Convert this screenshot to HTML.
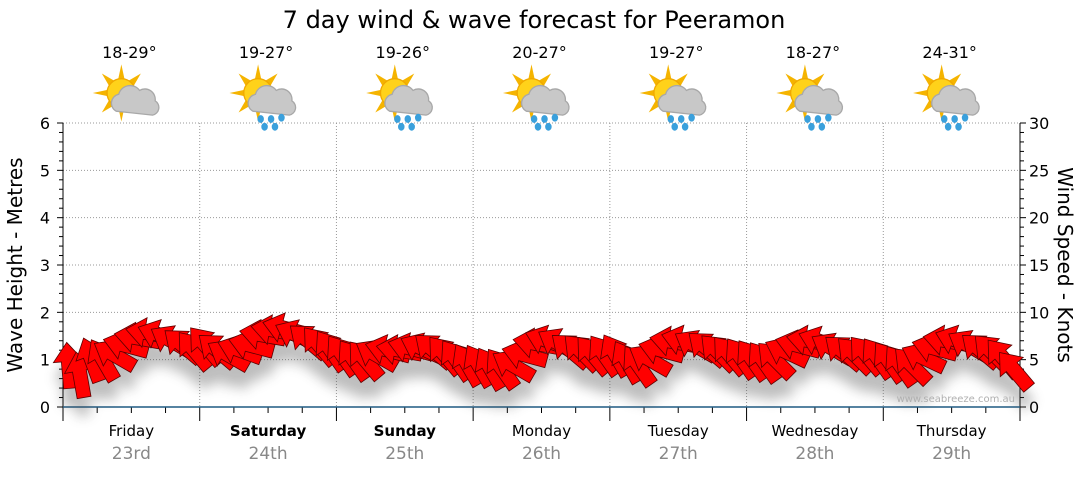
<!DOCTYPE html>
<html><head><meta charset="utf-8"><style>
body{margin:0;background:#fff;width:1080px;height:475px;overflow:hidden;font-family:"Liberation Sans","DejaVu Sans",sans-serif}
svg text{font-family:"DejaVu Sans","Liberation Sans",sans-serif}
</style></head><body>
<svg id="chart" width="1080" height="475" viewBox="0 0 1080 475">
<defs>
<filter id="sh" x="-20%" y="-20%" width="140%" height="160%"><feGaussianBlur stdDeviation="6"/></filter>
<g id="sun"><g fill="#f5b400">
<polygon points="0,-22 3,-8 -3,-8"/><polygon points="0,22 3,8 -3,8"/><polygon points="-22,0 -8,3 -8,-3"/><polygon points="22,0 8,3 8,-3"/>
<polygon points="-15,-15 -3,-8 -8,-3"/><polygon points="15,15 3,8 8,3"/><polygon points="15,-15 3,-8 8,-3"/><polygon points="-15,15 -3,8 -8,3"/></g>
<circle r="11" fill="#ffd21a" stroke="#f0a800"/></g>
<g id="cloud"><path d="M-4,14 a7,7 0 0 1 2,-13 a9,9 0 0 1 16,-3 a8,8 0 0 1 12,8 a6,6 0 0 1 -2,11 z" fill="#c8c8c8" stroke="#a8a8a8"/></g>
<g id="drops" fill="#3aa0dc"><ellipse cx="2" cy="20" rx="2.5" ry="3"/><ellipse cx="10" cy="20" rx="2.5" ry="3"/><ellipse cx="18" cy="19" rx="2.5" ry="3"/><ellipse cx="5" cy="26" rx="2.5" ry="3"/><ellipse cx="13" cy="26" rx="2.5" ry="3"/></g>
</defs>
<text x="534" y="28" font-size="24" text-anchor="middle" fill="#000">7 day wind &amp; wave forecast for Peeramon</text>
<g id="grid"></g><g id="axes"></g><g id="top"></g>
<g id="shadow" filter="url(#sh)" opacity="0.35" transform="translate(0,18)"></g>
<g id="arrows"></g>
<text x="1015" y="402" font-size="10" fill="#b0b0b0" text-anchor="end">www.seabreeze.com.au</text>
<text transform="translate(22,265) rotate(-90)" font-size="20" text-anchor="middle">Wave Height - Metres</text>
<text transform="translate(1058,265) rotate(90)" font-size="20" text-anchor="middle">Wind Speed - Knots</text>
</svg>
<script>
const days=["Friday","Saturday","Sunday","Monday","Tuesday","Wednesday","Thursday"];
const dates=["23rd","24th","25th","26th","27th","28th","29th"];
const boldDays=[false,true,true,false,false,false,false];
const temps=["18-29°","19-27°","19-26°","20-27°","19-27°","18-27°","24-31°"];
const rain=[false,true,true,true,true,true,true];
const waveTicks=[0,1,2,3,4,5,6];
const windTicks=[0,5,10,15,20,25,30];
const windKnots=[4.4,3.4,5,5,5.5,6.5,7.3,7.8,7.6,7,6.5,6,
6.5,6,5.5,6,6.5,7.6,8.1,8.3,7.6,7,6.5,6,
5.5,5,5,5.5,6,6,6.2,6.2,6,5.5,5,4.5,
4.4,4.1,4.1,4.4,5.5,6.7,7,6.7,6,5.8,5.5,5.5,
5.5,4.8,4.4,5,6,6.9,7,6.5,6.2,5.8,5.5,5.2,
5,4.8,5,5.8,6.5,7,6.9,6.2,5.8,5.5,5.5,5.2,
4.8,4.4,4.4,5.2,6.2,7,7,6.5,6,5.8,5.2,3.9];
const windDir=[-95,-100,-110,-120,-150,-165,-170,-170,-160,-150,-140,-130,
-130,-140,-150,-160,-165,-170,-170,-165,-155,-140,-130,-125,
-125,-125,-130,-150,-165,-170,-165,-155,-140,-130,-125,-120,
-120,-120,-125,-150,-165,-170,-160,-150,-140,-135,-130,-125,
-120,-120,-125,-150,-165,-170,-165,-150,-140,-135,-130,-125,
-125,-125,-135,-155,-165,-170,-160,-150,-140,-135,-130,-125,
-125,-125,-135,-155,-165,-170,-160,-150,-140,-135,-130,-130];
const NS="http://www.w3.org/2000/svg";
const X0=63,X1=1020,Y0=407,Y1=123;
const dayW=(X1-X0)/7;
const yW=m=>Y0-(m/6)*(Y0-Y1);
const yK=k=>Y0-(k/30)*(Y0-Y1);
const xT=i=>X0+(i+0.5)*(X1-X0)/windKnots.length;
function mk(t,a,p){const e=document.createElementNS(NS,t);for(const k in a)e.setAttribute(k,a[k]);(p||document.getElementById("axes")).appendChild(e);return e;}
const grid=document.getElementById("grid"),axes=document.getElementById("axes"),top_=document.getElementById("top");
waveTicks.forEach((m,i)=>{
 if(m>0){const g=mk("line",{x1:X0,x2:X1,y1:yW(m),y2:yW(m),stroke:"#999","stroke-dasharray":"1,2"},grid);
 
 }
 const t=mk("text",{x:50,y:yW(m)+6,"font-size":16,"text-anchor":"end"});t.textContent=m;
 
 
});
windTicks.forEach(k=>{const t=mk("text",{x:1029,y:yK(k)+6,"font-size":16});t.textContent=k;
 
 });
for(let v=0;v<=30;v++){const y=yK(v),L=v%5==0?6:4;mk("line",{x1:X0-L,x2:X0,y1:y,y2:y,stroke:"#000"});mk("line",{x1:X1,x2:X1+L,y1:y,y2:y,stroke:"#000"});}
mk("line",{x1:X0,x2:X0,y1:Y1,y2:Y0,stroke:"#000"});mk("line",{x1:X1,x2:X1,y1:Y1,y2:Y0,stroke:"#000"});
for(let d=0;d<=7;d++){const x=X0+d*dayW;
 if(d>0&&d<7){const g=mk("line",{x1:x,x2:x,y1:Y1,y2:Y0,stroke:"#999","stroke-dasharray":"1,2"},grid);
 
 }
 mk("line",{x1:x,x2:x,y1:Y0,y2:Y0+14,stroke:"#000"});
 if(d<7)for(let q=1;q<4;q++){const xq=x+q*dayW/4;mk("line",{x1:xq,x2:xq,y1:Y0,y2:Y0+6,stroke:"#000"});}
}
mk("line",{x1:X0,x2:X1,y1:Y0,y2:Y0,stroke:"#1f5a82","stroke-width":1.5});
days.forEach((d,i)=>{const cx=X0+(i+0.5)*dayW;
 const t=mk("text",{x:cx,y:436,"font-size":15,"text-anchor":"middle","font-weight":boldDays[i]?"bold":"normal"});t.textContent=d;
 
 
 const s=mk("text",{x:cx,y:459,"font-size":17,"text-anchor":"middle",fill:"#888"});s.textContent=dates[i];
 
 
 const tt=mk("text",{x:cx-2,y:58,"font-size":16,"text-anchor":"middle"},top_);tt.textContent=temps[i];
 
 
 const g=mk("g",{transform:`translate(${cx-10},93) scale(1.3)`},top_);
 
 
 mk("use",{href:"#sun"},g);mk("use",{href:"#cloud"},g);if(rain[i])mk("use",{href:"#drops"},g);
});
const arrowPts="23,0 4,-15 4,-7 -23,-7 -23,7 4,7 4,15";
const ag=document.getElementById("arrows"),sg=document.getElementById("shadow");
windKnots.forEach((k,i)=>{
 const tr=`translate(${xT(i)},${yK(k)}) rotate(${windDir[i]})`;
 mk("polygon",{points:arrowPts,transform:tr,fill:"#444"},sg);
 const p=mk("polygon",{points:arrowPts,transform:tr,fill:"#ff0000",stroke:"#5a0000","stroke-width":0.8},ag);
 
 
});
</script>
</body></html>
